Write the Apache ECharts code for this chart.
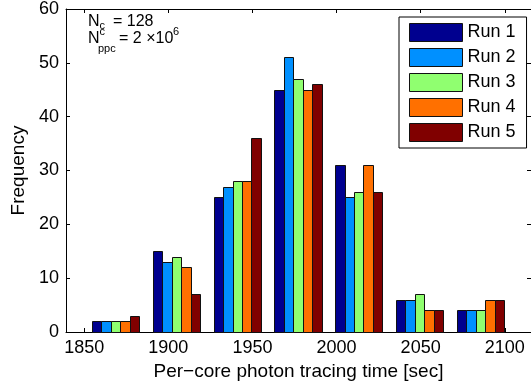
<!DOCTYPE html>
<html>
<head>
<meta charset="utf-8">
<script src="https://cdn.jsdelivr.net/npm/echarts@6/dist/echarts.min.js"></script>
<style>
  html, body { margin: 0; padding: 0; background: #fff; }
  #chart { width: 531px; height: 387px; }
</style>
</head>
<body>
<div id="chart"></div>
<script>
// Histogram bin centres (seconds) and per-run counts
const binCenters = [1868.7, 1904.8, 1941.0, 1977.1, 2013.2, 2049.4, 2085.5];
const runNames = ['Run 1', 'Run 2', 'Run 3', 'Run 4', 'Run 5'];
const run1 = [2, 15, 25, 45, 31, 6, 4];
const run2 = [2, 13, 27, 51, 25, 6, 4];
const run3 = [2, 14, 28, 47, 26, 7, 4];
const run4 = [2, 12, 28, 45, 31, 4, 6];
const run5 = [3, 7, 36, 46, 26, 4, 6];
const xTickValues = [1850, 1900, 1950, 2000, 2050, 2100];
const yTickValues = [0, 10, 20, 30, 40, 50, 60];

const runs = [run1, run2, run3, run4, run5];
const runColors = ['#00008f', '#0090ff', '#90ff70', '#ff7000', '#800000'];
const FONT = '"Liberation Sans", Arial, Helvetica, sans-serif';
const BAR_W = 5.615; // width of one bar in x-axis units

function renderBar(params, api) {
  const k = params.seriesIndex;
  const xc = api.value(0);
  const yv = api.value(1);
  const x0 = xc + (k - runs.length / 2) * BAR_W;
  const p0 = api.coord([x0, yv]);
  const p1 = api.coord([x0 + BAR_W, 0]);
  const left = Math.round(p0[0]) + 0.5;
  const right = Math.round(p1[0]) + 0.5;
  const top = Math.round(p0[1]) + 0.5;
  const bottom = Math.round(p1[1]) + 0.5;
  return {
    type: 'rect',
    shape: { x: left, y: top, width: right - left, height: bottom - top },
    style: { fill: api.visual('color'), stroke: '#111', lineWidth: 1 }
  };
}

const chart = echarts.init(document.getElementById('chart'), null, { renderer: 'canvas' });

const axisLineStyle = { color: '#000', width: 1 };
const plain = v => String(v);
const txt = (text, x, y, size) => ({
  type: 'text', x: x, y: y,
  style: {
    text: text, fill: '#000', fontSize: size, fontFamily: 'Liberation Sans',
    verticalAlign: 'bottom', align: 'left'
  }
});

chart.setOption({
  animation: false,
  backgroundColor: '#fff',
  color: runColors,
  textStyle: { fontFamily: FONT },
  grid: { left: 66, top: 9, right: -5, bottom: 55, containLabel: false },
  legend: {
    orient: 'vertical',
    left: 399, top: 17,
    padding: [6, 11, 6, 10],
    itemWidth: 53, itemHeight: 18, itemGap: 6,
    backgroundColor: '#fff',
    borderColor: '#000', borderWidth: 1,
    itemStyle: { borderColor: '#111', borderWidth: 1 },
    textStyle: { color: '#000', fontSize: 18, lineHeight: 18, fontFamily: FONT },
    selectedMode: false,
    data: runNames.map(n => ({ name: n, icon: 'rect' }))
  },
  xAxis: [
    {
      type: 'value', position: 'bottom',
      min: 1839.2, max: 2115.6,
      name: 'Per\u2212core photon tracing time [sec]',
      nameLocation: 'middle', nameGap: 26,
      nameTextStyle: { color: '#000', fontSize: 19, fontFamily: FONT },
      axisLine: { show: true, onZero: false, lineStyle: axisLineStyle },
      axisTick: { show: true, inside: true, length: 4, customValues: xTickValues, lineStyle: axisLineStyle },
      axisLabel: { show: true, customValues: xTickValues, formatter: plain, margin: 7, color: '#000', fontSize: 18, fontFamily: FONT },
      splitLine: { show: false }
    },
    {
      type: 'value', position: 'top',
      min: 1839.2, max: 2115.6,
      axisLine: { show: true, onZero: false, lineStyle: axisLineStyle },
      axisTick: { show: true, inside: true, length: 4, customValues: xTickValues, lineStyle: axisLineStyle },
      axisLabel: { show: false },
      splitLine: { show: false }
    }
  ],
  yAxis: [
    {
      type: 'value', position: 'left',
      min: 0, max: 60, interval: 10,
      name: 'Frequency',
      nameLocation: 'middle', nameGap: 37,
      nameTextStyle: { color: '#000', fontSize: 19, fontFamily: FONT },
      axisLine: { show: true, onZero: false, lineStyle: axisLineStyle },
      axisTick: { show: true, inside: true, length: 4, customValues: yTickValues, lineStyle: axisLineStyle },
      axisLabel: { show: true, customValues: yTickValues, formatter: plain, margin: 7, color: '#000', fontSize: 18, fontFamily: FONT },
      splitLine: { show: false }
    },
    {
      type: 'value', position: 'right',
      min: 0, max: 60, interval: 10,
      axisLine: { show: true, onZero: false, lineStyle: axisLineStyle },
      axisTick: { show: true, inside: true, length: 4, customValues: yTickValues, lineStyle: axisLineStyle },
      axisLabel: { show: false },
      splitLine: { show: false }
    }
  ],
  series: runs.map((vals, k) => ({
    type: 'custom',
    name: runNames[k],
    xAxisIndex: 0, yAxisIndex: 0,
    renderItem: renderBar,
    encode: { x: 0, y: 1 },
    itemStyle: { color: runColors[k] },
    data: binCenters.map((c, i) => [c, vals[i]])
  })),
  graphic: [
    // N_c = 128
    txt('N', 88, 30, 16),
    txt('c', 99.5, 31.5, 11),
    txt('= 128', 113, 30, 16),
    // N^c_ppc = 2 x 10^6
    txt('N', 88, 47, 16),
    txt('c', 99.5, 37, 11),
    txt('ppc', 98, 54, 11),
    txt('= 2 \u00d710', 119, 47, 16),
    txt('6', 173, 37, 11)
  ]
});
</script>
</body>
</html>
